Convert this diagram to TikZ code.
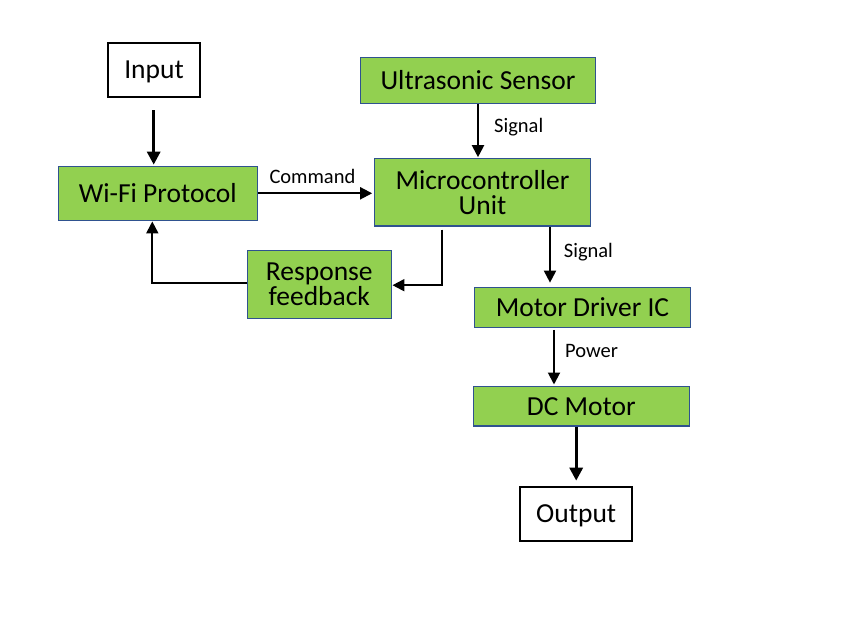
\documentclass[tikz,border=0pt]{standalone}
\usepackage{fontspec}
\setmainfont{Carlito}
\usetikzlibrary{arrows.meta,calc}
\definecolor{boxgreen}{HTML}{92D050}
\definecolor{boxblue}{HTML}{2F528F}
\begin{document}
\begin{tikzpicture}[x=1pt,y=-1pt,
  gbase/.style={draw=boxblue,fill=boxgreen,line width=1.3pt,inner sep=0pt,align=center,
    font=\fontsize{27.5}{25}\selectfont},
  gbox/.style={gbase,text height=17.7pt,text depth=0pt},
  gbox2/.style={gbase},
  wbox/.style={draw=black,fill=white,line width=2pt,inner sep=0pt,
    font=\fontsize{27.5}{25}\selectfont,text height=17.7pt,text depth=0pt},
  lbl/.style={inner sep=0pt,font=\fontsize{20.5}{24}\selectfont,text height=13.2pt,text depth=0pt},
  thinarrow/.style={line width=2pt,-{Triangle[length=12pt,width=12pt]}},
  thickarrow/.style={line width=3pt,-{Triangle[length=13pt,width=13pt]}}]
\useasboundingbox (0,0) rectangle (841,618);
\node[wbox,minimum width=92pt,minimum height=54pt] (in) at (154,70) {Input};
\node[gbox,minimum width=199pt,minimum height=54pt] (wifi) at (157.8,193.3) {Wi-Fi Protocol};
\node[gbox2,minimum width=144pt,minimum height=68pt] (resp) at (319.3,284.2) {Response\\feedback};
\node[gbox,minimum width=235.4pt,minimum height=46pt] (us) at (478,80.3) {Ultrasonic Sensor};
\node[gbox2,minimum width=216.4pt,minimum height=67.7pt] (mcu) at (482.5,192.2) {Microcontroller\\Unit};
\node[gbox,minimum width=216.4pt,minimum height=40pt] (md) at (582.5,307.3) {Motor Driver IC};
\node[gbox,minimum width=216pt,minimum height=39.3pt] (dc) at (581.3,406.3) {DC Motor};
\node[wbox,minimum width=111.7pt,minimum height=54pt] (out) at (576.2,513.7) {Output};
% labels
\node[lbl,anchor=west] (lcmd) at (269.3,176.7) {Command};
\node[lbl,anchor=west] (lsig1) at (494,126.3) {Signal};
\node[lbl,anchor=west] (lsig2) at (563.7,251.3) {Signal};
\node[lbl,anchor=west] (lpow) at (565,350.8) {Power};
% connectors
\draw[thickarrow,shorten <=12pt,shorten >=1pt] ([xshift=-0.3pt]in.south) -- ([xshift=-0.3pt]in.south |- wifi.north);
\draw[thinarrow,shorten >=1.5pt] (wifi.east) -- (mcu.west |- wifi.east);
\draw[thinarrow,shorten <=3pt,shorten >=0.5pt] ([xshift=-40.5pt]mcu.south) |- ([yshift=-1pt]resp.east);
\draw[thinarrow,shorten >=0.5pt] ([yshift=1.5pt]resp.west) -| ([xshift=-5.5pt]wifi.south);
\draw[thinarrow,shorten >=0.5pt] (us.south) -- (us.south |- mcu.north);
\draw[thinarrow,shorten >=4pt] ([xshift=67.5pt]mcu.south) -- ([xshift=67.5pt]mcu.south |- md.north);
\draw[thinarrow,shorten <=2pt,shorten >=1.5pt] ([xshift=-28.5pt]md.south) -- ([xshift=-28.5pt]md.south |- dc.north);
\draw[thickarrow,shorten >=5pt] (dc.south -| out.north) -- (out.north);
\end{tikzpicture}
\end{document}
